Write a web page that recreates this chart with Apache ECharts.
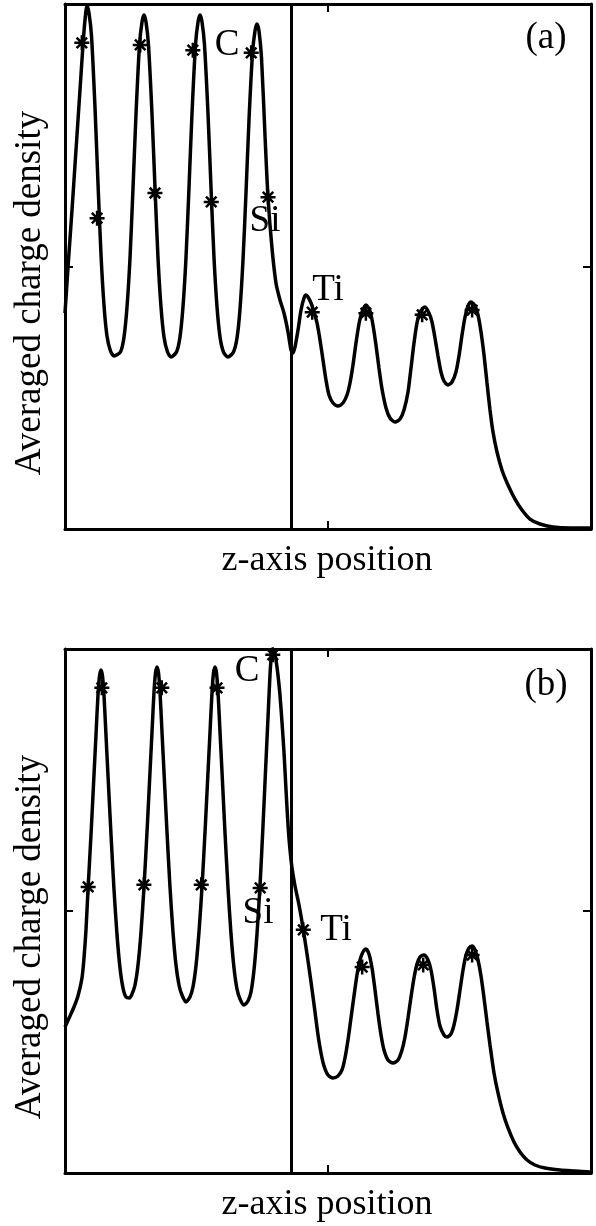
<!DOCTYPE html>
<html>
<head>
<meta charset="utf-8">
<script src="https://cdn.jsdelivr.net/npm/echarts@6.0.0/dist/echarts.min.js"></script>
<style>
html,body{margin:0;padding:0;background:#fff;}
#chart{width:596px;height:1226px;}
</style>
</head>
<body>
<div id="chart"></div>
<script>
/* 数据：z 位置 (0-100) 与平均电荷密度 (0-100) */

// (a) 曲线
var curveA = [
	[0,41.14],[0.29,45.52],[0.57,49.90],[1.33,60.76],[2.09,72.19],[2.85,83.62],[3.42,92.19],[3.80,96.95],[4.18,99.62],
	[4.56,98.29],[5.04,93.90],[5.70,80.38],[6.27,65.90],[6.84,52.38],[7.41,42.67],[7.98,36.76],[8.65,33.90],[9.32,32.95],
	[10.55,33.71],[11.22,36.57],[11.79,42.29],[12.36,51.62],[12.93,64.95],[13.50,79.05],[14.16,92.19],[14.64,96.57],[15.02,97.90],
	[15.40,96.57],[15.87,92.19],[16.54,79.05],[17.11,64.95],[17.68,51.62],[18.25,42.29],[18.82,36.57],[19.49,33.71],[20.15,32.76],
	[21.20,33.71],[21.86,36.57],[22.43,42.29],[23.00,51.62],[23.57,64.95],[24.14,79.05],[24.81,92.19],[25.29,96.57],[25.67,97.90],
	[26.05,96.57],[26.52,92.19],[27.19,79.05],[27.76,64.95],[28.33,51.62],[28.90,42.29],[29.47,36.57],[30.13,33.71],[30.99,32.76],
	[32.03,33.71],[32.70,36.38],[33.27,41.90],[33.84,51.24],[34.41,64.00],[34.98,77.90],[35.65,90.67],[36.12,94.86],[36.50,96.19],
	[36.88,94.86],[37.36,89.71],[38.02,75.05],[38.59,63.24],[39.35,53.52],[40.11,46.86],[40.87,43.62],[41.63,41.14],[42.40,37.52],
	[42.97,34.10],[43.35,33.52],
	[43.73,34.67],[44.30,37.90],[44.87,41.71],[45.44,44.00],[45.82,44.57],[46.20,44.19],[46.77,43.05],[47.34,41.33],[47.91,39.24],
	[48.48,36.00],[49.05,32.19],[49.62,28.38],[50.19,25.52],[50.95,24.00],[51.90,23.43],[52.85,24.00],[53.61,25.52],[54.18,27.81],
	[54.75,31.24],[55.32,35.43],[55.89,39.05],[56.46,41.33],[57.22,42.67],[57.98,41.52],[58.55,38.86],[59.12,35.05],[59.69,30.67],
	[60.27,26.67],[61.03,23.05],[61.79,21.14],[62.74,20.38],[63.69,20.95],[64.45,22.67],[65.21,26.10],[65.78,30.67],[66.35,35.43],
	[66.92,39.24],[67.49,41.33],[68.44,42.29],[69.20,41.14],[69.77,39.43],[70.34,36.38],[70.91,32.95],[71.48,29.90],[72.05,28.19],
	[72.81,27.43],[73.57,28.00],[74.33,29.90],[74.90,32.95],[75.48,36.95],[76.05,40.38],[76.62,42.48],[77.19,43.24],[77.95,42.48],
	[78.52,40.76],[79.09,37.52],[79.66,33.14],[80.23,27.81],[80.80,22.67],[81.37,18.48],[82.13,14.67],[83.07,11.24],[84.22,8.38],
	[85.55,5.71],[86.88,3.62],[88.40,1.90],[90.30,0.95],[92.77,0.38],[96.01,0.19],[99.81,0.19]
];
// (a) 原子位置标记
var starsCA  = [[3.2,92.6],[14.3,92.2],[24.3,91.2],[35.4,90.7]];
var starsSiA = [[6.1,59.2],[17.1,64.0],[27.8,62.3],[38.6,63.2]];
var starsTiA = [[47.0,41.3],[57.2,41.1],[67.9,40.8],[77.4,41.7]];

// (b) 曲线
var curveB = [
	[0,27.86],[0.95,29.96],[1.71,31.68],[2.47,33.78],[3.23,37.21],[3.61,41.03],[3.99,46.37],[4.37,54.01],[4.94,64.50],
	[5.51,75.95],[5.89,83.59],[6.27,91.22],[6.56,94.85],[6.84,95.99],
	[7.13,94.85],[7.41,91.22],[7.79,83.59],[8.17,75.95],[8.75,64.50],[9.32,54.01],[9.89,45.42],[10.46,39.12],[11.03,35.30],
	[11.60,33.59],[12.26,33.40],
	[12.74,34.16],[13.31,35.88],[13.88,39.69],[14.45,45.99],[15.02,54.58],[15.59,65.08],[16.16,76.53],[16.54,84.16],[16.92,91.79],
	[17.21,95.42],[17.49,96.57],
	[17.78,95.42],[18.06,91.79],[18.44,84.16],[18.82,76.53],[19.39,65.08],[19.96,54.58],[20.53,45.99],[21.10,39.69],[21.67,35.88],
	[22.24,33.97],[23.00,32.63],
	[23.76,33.59],[24.33,35.50],[24.90,39.50],[25.47,45.99],[26.05,54.58],[26.62,65.08],[27.19,76.53],[27.57,84.16],[27.95,91.79],
	[28.23,95.42],[28.52,96.57],
	[28.80,95.42],[29.09,91.79],[29.47,84.16],[29.85,76.53],[30.42,64.89],[30.99,54.39],[31.56,45.61],[32.13,39.12],[32.70,35.11],
	[33.27,33.21],[34.03,32.06],
	[34.79,32.82],[35.36,34.54],[35.93,38.74],[36.50,45.61],[37.07,54.77],[37.64,66.22],[38.21,78.63],[38.59,86.83],[38.97,95.04],
	[39.26,99.05],[39.54,99.90],
	[39.83,99.43],[40.11,97.90],[40.49,95.04],[40.87,91.22],[41.25,86.07],[41.63,80.34],[42.02,73.09],[42.40,66.41],[42.78,61.64],
	[43.16,58.21],[43.73,54.77],[44.49,51.15],[45.25,46.76],[46.01,41.79],[46.77,36.45],[47.53,30.73],[48.10,26.34],[48.67,22.90],
	[49.24,20.42],[50.00,18.70],[50.95,18.13],
	[51.90,18.51],[52.66,19.66],[53.23,21.95],[53.80,25.38],[54.37,29.58],[54.94,33.78],[55.51,37.79],[56.08,40.65],[56.65,42.18],
	[57.22,42.75],[57.79,41.79],[58.37,39.12],[58.94,34.92],[59.51,30.34],[60.08,26.34],[60.65,23.47],[61.41,21.56],[62.36,20.99],
	[63.31,21.56],[64.07,23.47],[64.64,25.95],[65.21,29.58],[65.78,33.59],[66.35,37.21],[66.92,39.88],[67.49,41.22],[68.25,41.60],
	[69.01,40.65],[69.58,38.74],[70.15,35.30],[70.72,31.11],[71.29,28.05],[72.05,26.34],[72.62,25.95],[73.38,26.53],[73.95,28.24],
	[74.52,31.11],[75.10,34.92],[75.67,38.74],[76.24,41.60],[76.81,42.94],[77.38,43.32],[77.95,42.56],[78.52,40.65],[79.09,37.59],
	[79.66,33.40],[80.23,28.82],[80.80,24.43],[81.56,19.08],[82.32,15.27],[83.27,11.45],[84.22,8.59],[85.36,5.92],[86.50,4.01],
	[87.83,2.48],[89.35,1.53],[91.25,0.95],[94.10,0.57],[96.95,0.38],[99.81,0.19]
];
// (b) 原子位置标记
var starsCB  = [[7.0,92.6],[18.4,92.6],[28.9,92.6],[39.5,98.9]];
var starsSiB = [[4.4,54.6],[15.0,55.0],[25.9,55.0],[37.1,54.4]];
var starsTiB = [[45.3,46.4],[56.5,39.3],[68.1,39.7],[77.4,41.6]];

// 界面位置
var interfaceZ = [43, 43];

var FONT = "'Liberation Serif','DejaVu Serif',serif";
var STAR = 'path://M10,0L10,20M0,10L20,10M3,3L17,17M3,17L17,3';

var chart = echarts.init(document.getElementById('chart'));

// 四边坐标轴构成方框
function axis(gi, pos){
	return {
		gridIndex: gi, type: 'value', min: 0, max: 100, interval: 50, position: pos,
		axisLine: {show: true, onZero: false, lineStyle: {color: '#000', width: 3}},
		axisTick: {show: true, inside: true, length: 8, lineStyle: {color: '#000', width: 2}},
		axisLabel: {show: false}, splitLine: {show: false}
	};
}

function lineSeries(ai, data, zi){
	return {
		type: 'line', xAxisIndex: ai, yAxisIndex: ai, data: data,
		showSymbol: false, smooth: 0.25, silent: true,
		lineStyle: {color: '#000', width: 3.5},
		markLine: {
			symbol: 'none', silent: true, label: {show: false},
			lineStyle: {color: '#000', width: 3, type: 'solid'},
			data: [{xAxis: zi}]
		}
	};
}
function starSeries(ai, data){
	return {
		type: 'scatter', xAxisIndex: ai, yAxisIndex: ai, data: data,
		symbol: STAR, symbolSize: 15, silent: true, z: 5,
		itemStyle: {color: 'rgba(0,0,0,0)', borderColor: '#000', borderWidth: 2.5, opacity: 1}
	};
}

function txt(x, y, s, size, rot){
	return {
		type: 'text', x: x, y: y, rotation: rot || 0,
		style: {text: s, font: size + 'px ' + FONT, fill: '#000', align: 'center', verticalAlign: 'middle'}
	};
}

var option = {
	animation: false,
	backgroundColor: '#fff',
	grid: [
		{left: 65, top: 4, width: 526, height: 525},
		{left: 65, top: 649, width: 526, height: 524}
	],
	xAxis: [axis(0, 'bottom'), axis(1, 'bottom'), axis(0, 'top'), axis(1, 'top')],
	yAxis: [axis(0, 'left'), axis(1, 'left'), axis(0, 'right'), axis(1, 'right')],
	series: [
		lineSeries(0, curveA, interfaceZ[0]),
		starSeries(0, starsCA.concat(starsSiA, starsTiA)),
		lineSeries(1, curveB, interfaceZ[1]),
		starSeries(1, starsCB.concat(starsSiB, starsTiB))
	],
	graphic: [
		txt(30, 293, 'Averaged charge density', 37, Math.PI / 2),
		txt(30, 937, 'Averaged charge density', 37, Math.PI / 2),
		txt(327, 561, 'z-axis position', 36),
		txt(327, 1205, 'z-axis position', 36),
		txt(546, 38, '(a)', 37),
		txt(546, 685, '(b)', 37),
		txt(227, 45, 'C', 37),
		txt(265, 221, 'Si', 37),
		txt(328, 290, 'Ti', 37),
		txt(247, 671, 'C', 37),
		txt(258, 913, 'Si', 37),
		txt(336, 930, 'Ti', 37)
	]
};
chart.setOption(option);
</script>
</body>
</html>
